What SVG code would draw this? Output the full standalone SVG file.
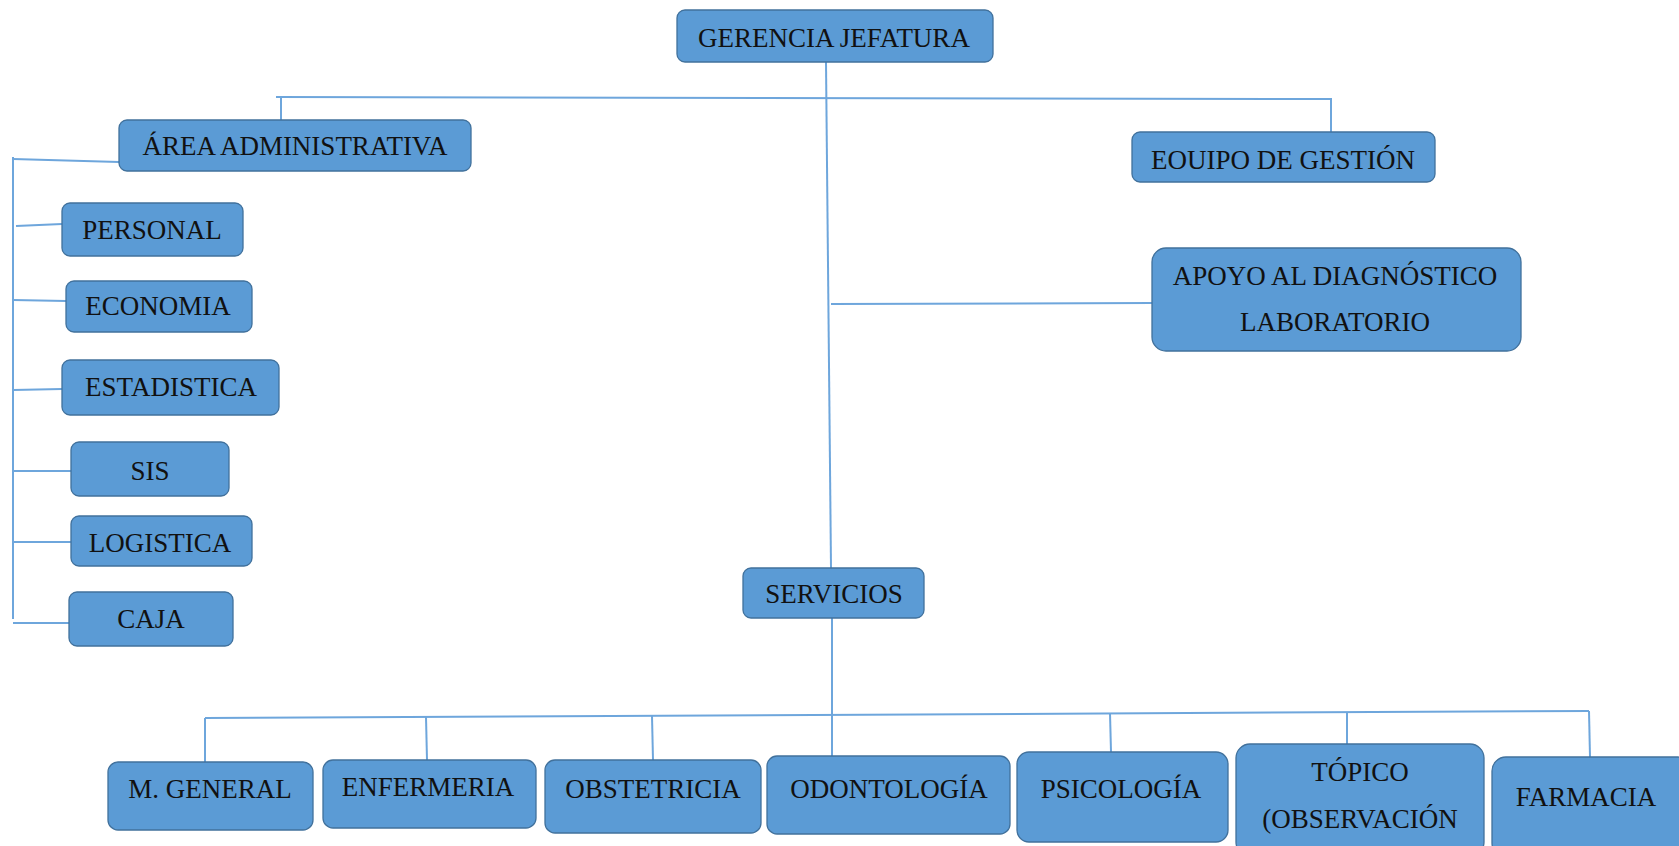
<svg xmlns="http://www.w3.org/2000/svg" width="1679" height="846" viewBox="0 0 1679 846">
<style>
.box{fill:#5b9bd5;stroke:#41719c;stroke-width:1.3}
.t{font-family:"Liberation Serif","Times New Roman",serif;font-size:27px;fill:#111;text-anchor:middle}
.c{fill:none;stroke:#6ea6dc;stroke-width:2}
</style>
<rect width="1679" height="846" fill="#fff"/>
<g id="connectors">
<path class="c" d="M826 62 L831 568"/>
<path class="c" d="M832 618 L832 756"/>
<path class="c" d="M276 97 L1331 99 L1331 132"/>
<path class="c" d="M281 97 L281 120"/>
<path class="c" d="M831 304 L1152 303"/>
<path class="c" d="M13 157 L13 619"/>
<path class="c" d="M13 159 L119 162"/>
<path class="c" d="M16 226 L62 224"/>
<path class="c" d="M13 300 L66 301"/>
<path class="c" d="M13 390 L62 389"/>
<path class="c" d="M13 471 L71 471"/>
<path class="c" d="M13 542 L71 542"/>
<path class="c" d="M13 623 L69 623"/>
<path class="c" d="M205 718 L1589 711"/>
<path class="c" d="M205 718 L205 762"/>
<path class="c" d="M426 717 L427 760"/>
<path class="c" d="M652 716 L653 760"/>
<path class="c" d="M1110 713 L1111 752"/>
<path class="c" d="M1347 712 L1347 744"/>
<path class="c" d="M1589 711 L1590 757"/>
</g>
<g id="gerencia"><rect class="box" x="677" y="10" width="316" height="52" rx="8"/><text class="t" x="834" y="47">GERENCIA JEFATURA</text></g>
<g id="area"><rect class="box" x="119" y="120" width="352" height="51" rx="8"/><text class="t" x="295" y="155">ÁREA ADMINISTRATIVA</text></g>
<g id="equipo"><rect class="box" x="1132" y="132" width="303" height="50" rx="8"/><text class="t" x="1283" y="169">EOUIPO DE GESTIÓN</text></g>
<g id="apoyo"><rect class="box" x="1152" y="248" width="369" height="103" rx="14"/><text class="t" x="1335" y="285">APOYO AL DIAGNÓSTICO</text><text class="t" x="1335" y="331">LABORATORIO</text></g>
<g id="personal"><rect class="box" x="62" y="203" width="181" height="53" rx="8"/><text class="t" x="152" y="239">PERSONAL</text></g>
<g id="economia"><rect class="box" x="66" y="281" width="186" height="51" rx="8"/><text class="t" x="158" y="315">ECONOMIA</text></g>
<g id="estadistica"><rect class="box" x="62" y="360" width="217" height="55" rx="8"/><text class="t" x="171" y="396">ESTADISTICA</text></g>
<g id="sis"><rect class="box" x="71" y="442" width="158" height="54" rx="8"/><text class="t" x="150" y="480">SIS</text></g>
<g id="logistica"><rect class="box" x="71" y="516" width="181" height="50" rx="8"/><text class="t" x="160" y="552">LOGISTICA</text></g>
<g id="caja"><rect class="box" x="69" y="592" width="164" height="54" rx="8"/><text class="t" x="151" y="628">CAJA</text></g>
<g id="servicios"><rect class="box" x="743" y="568" width="181" height="50" rx="8"/><text class="t" x="834" y="603">SERVICIOS</text></g>
<g id="mgeneral"><rect class="box" x="108" y="762" width="205" height="68" rx="10"/><text class="t" x="210" y="798">M. GENERAL</text></g>
<g id="enfermeria"><rect class="box" x="323" y="760" width="213" height="68" rx="10"/><text class="t" x="428" y="796">ENFERMERIA</text></g>
<g id="obstetricia"><rect class="box" x="545" y="760" width="216" height="73" rx="10"/><text class="t" x="653" y="798">OBSTETRICIA</text></g>
<g id="odontologia"><rect class="box" x="767" y="756" width="243" height="78" rx="10"/><text class="t" x="889" y="798">ODONTOLOGÍA</text></g>
<g id="psicologia"><rect class="box" x="1017" y="752" width="211" height="90" rx="12"/><text class="t" x="1121" y="798">PSICOLOGÍA</text></g>
<g id="topico"><rect class="box" x="1236" y="744" width="248" height="112" rx="14"/><text class="t" x="1360" y="781">TÓPICO</text><text class="t" x="1360" y="828">(OBSERVACIÓN</text></g>
<g id="farmacia"><rect class="box" x="1492" y="757" width="200" height="100" rx="14"/><text class="t" x="1586" y="806">FARMACIA</text></g>
</svg>
